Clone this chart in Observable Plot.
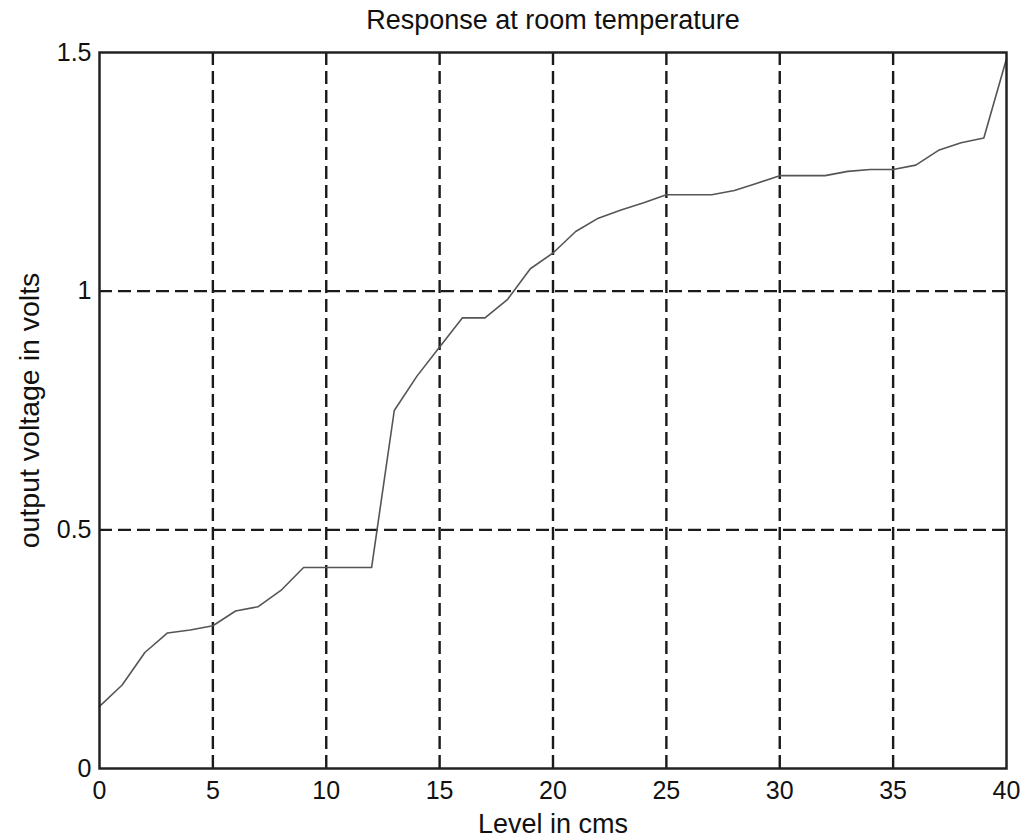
<!DOCTYPE html>
<html>
<head>
<meta charset="utf-8">
<script src="https://cdn.jsdelivr.net/npm/d3@7"></script>
<script src="https://cdn.jsdelivr.net/npm/@observablehq/plot@0.6"></script>
<style>
  html, body { margin: 0; padding: 0; background: #fff; }
</style>
</head>
<body>
<div id="chart"></div>
<script>
const level = [0,1,2,3,4,5,6,7,8,9,10,11,12,13,14,15,16,17,18,19,20,21,22,23,24,25,26,27,28,29,30,31,32,33,34,35,36,37,38,39,40];
const voltage = [0.13,0.175,0.243,0.284,0.29,0.299,0.33,0.339,0.373,0.421,0.421,0.421,0.421,0.75,0.822,0.883,0.944,0.944,0.983,1.047,1.08,1.125,1.153,1.17,1.185,1.202,1.202,1.202,1.211,1.226,1.242,1.242,1.242,1.251,1.255,1.255,1.264,1.295,1.311,1.321,1.487];
const xTicks = [0,5,10,15,20,25,30,35,40];
const yTicks = [0,0.5,1,1.5];
const xGrid = [5,10,15,20,25,30,35];
const yGrid = [0.5,1];
const title = "Response at room temperature";
const xLabel = "Level in cms";
const yLabel = "output voltage in volts";

const data = level.map((l, i) => ({level: l, voltage: voltage[i]}));

const chart = Plot.plot({
  width: 1028,
  height: 840,
  marginLeft: 99,
  marginRight: 22,
  marginTop: 52,
  marginBottom: 72,
  style: {fontFamily: "'Liberation Sans', Arial, sans-serif", background: "#fff", color: "#111"},
  x: {domain: [0, 40]},
  y: {domain: [0, 1.5]},
  marks: [
    Plot.gridX(xGrid, {stroke: "#1a1a1a", strokeOpacity: 1, strokeWidth: 2.4, strokeDasharray: "13,6"}),
    Plot.gridY(yGrid, {stroke: "#1a1a1a", strokeOpacity: 1, strokeWidth: 2.4, strokeDasharray: "13,6"}),
    Plot.line(data, {x: "level", y: "voltage", stroke: "#555", strokeWidth: 1.6}),
    Plot.frame({stroke: "#222", strokeWidth: 2.5}),
    Plot.axisX(xTicks, {tickSize: 0, tickPadding: 13, fontSize: 25, label: null, tickFormat: d => String(d), fill: "#111"}),
    Plot.axisY(yTicks, {tickSize: 0, tickPadding: 8, fontSize: 25, label: null, tickFormat: d => String(d), fill: "#111"}),
    Plot.text([title], {frameAnchor: "top", lineAnchor: "bottom", dy: -24, fontSize: 27, fill: "#111"}),
    Plot.text([xLabel], {frameAnchor: "bottom", lineAnchor: "bottom", dy: 64, fontSize: 27, fill: "#111"}),
    Plot.text([yLabel], {frameAnchor: "left", textAnchor: "middle", lineAnchor: "bottom", rotate: -90, dx: -61, fontSize: 28.5, fill: "#111"})
  ]
});
document.getElementById("chart").appendChild(chart);
</script>
</body>
</html>
